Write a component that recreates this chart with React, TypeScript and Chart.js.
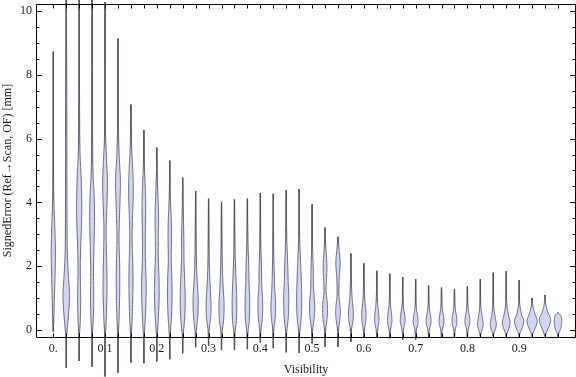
import React, { useEffect, useRef } from "react";
import { Chart, registerables } from "chart.js";

Chart.register(...registerables);

// Categories (Visibility)
const visibility = [
  0, 0.025, 0.05, 0.075, 0.1, 0.125, 0.15, 0.175, 0.2, 0.225,
  0.25, 0.275, 0.3, 0.325, 0.35, 0.375, 0.4, 0.425, 0.45, 0.475,
  0.5, 0.525, 0.55, 0.575, 0.6, 0.625, 0.65, 0.675, 0.7, 0.725,
  0.75, 0.775, 0.8, 0.825, 0.85, 0.875, 0.9, 0.925, 0.95, 0.975,
];

// Lowest / highest signed error per category [mm]
const errorMin = [
  -0.05, -1.19, -0.97, -1.15, -1.46, -1.34, -1.02, -1.04, -0.99, -0.92,
  -0.73, -0.54, -0.5, -0.63, -0.63, -0.6, -0.4, -0.57, -0.7, -0.72,
  -0.42, -0.53, -0.53, -0.37, -0.22, -0.22, -0.26, -0.3, -0.3, -0.22,
  -0.22, -0.22, -0.22, -0.2, -0.2, -0.2, -0.2, -0.2, -0.2, -0.2,
];
const errorMax = [
  8.73, 10.6, 10.6, 10.6, 10.28, 9.14, 7.07, 6.27, 5.72, 5.31,
  4.78, 4.36, 4.12, 4.0, 4.09, 4.12, 4.29, 4.27, 4.38, 4.42,
  3.94, 3.21, 2.92, 2.4, 2.09, 1.86, 1.76, 1.66, 1.6, 1.39,
  1.33, 1.29, 1.37, 1.6, 1.8, 1.84, 1.56, 1.0, 1.1, 0.55,
];

// Relative density profile per category: [error, density]
const densityProfiles: number[][][] = [
  [[-0.05, 0], [0.3, 0.1], [1, 0.22], [2, 0.38], [2.6, 0.4], [3.3, 0.28], [4.2, 0.1], [5.5, 0.04], [8.73, 0]],
  [[-1.19, 0], [-0.3, 0.04], [0.2, 0.3], [0.8, 0.58], [1.2, 0.62], [1.7, 0.42], [2.5, 0.2], [4, 0.15], [6, 0.13], [8, 0.1], [9.5, 0.05], [10.6, 0.01]],
  [[-0.97, 0], [-0.2, 0.06], [0.3, 0.22], [1, 0.3], [1.8, 0.22], [2.5, 0.28], [3.3, 0.45], [4, 0.5], [4.8, 0.38], [5.6, 0.16], [7, 0.08], [9, 0.04], [10.6, 0.01]],
  [[-1.15, 0], [-0.2, 0.06], [0.3, 0.22], [1, 0.32], [1.8, 0.27], [2.6, 0.36], [3.4, 0.47], [4.2, 0.4], [5, 0.17], [6.5, 0.08], [9, 0.04], [10.6, 0.01]],
  [[-1.46, 0], [-0.3, 0.05], [0.3, 0.22], [1.2, 0.38], [1.8, 0.36], [2.6, 0.25], [3.3, 0.23], [4.1, 0.4], [4.7, 0.45], [5.4, 0.28], [6.2, 0.1], [8, 0.04], [10.28, 0]],
  [[-1.34, 0], [-0.3, 0.05], [0.3, 0.2], [1.2, 0.33], [2, 0.33], [2.8, 0.2], [3.5, 0.28], [4.4, 0.45], [4.8, 0.45], [5.5, 0.22], [6.5, 0.08], [8, 0.04], [9.14, 0]],
  [[-1.02, 0], [-0.3, 0.05], [0.3, 0.23], [1.3, 0.38], [2, 0.36], [2.8, 0.23], [3.5, 0.3], [4.3, 0.45], [5, 0.36], [5.8, 0.13], [7.07, 0]],
  [[-1.04, 0], [-0.3, 0.05], [0.3, 0.26], [1, 0.42], [1.6, 0.42], [2.3, 0.28], [3, 0.28], [3.8, 0.36], [4.4, 0.28], [5.2, 0.1], [6.27, 0]],
  [[-0.99, 0], [-0.3, 0.05], [0.3, 0.28], [1, 0.45], [1.6, 0.42], [2.3, 0.28], [3, 0.3], [3.6, 0.34], [4.3, 0.2], [5, 0.07], [5.72, 0]],
  [[-0.92, 0], [-0.3, 0.05], [0.3, 0.28], [1, 0.45], [1.6, 0.4], [2.2, 0.28], [2.9, 0.33], [3.5, 0.28], [4.2, 0.1], [5.31, 0]],
  [[-0.73, 0], [-0.2, 0.07], [0.3, 0.35], [0.9, 0.48], [1.5, 0.4], [2.1, 0.26], [2.8, 0.23], [3.4, 0.16], [4, 0.07], [4.78, 0]],
  [[-0.54, 0], [-0.1, 0.09], [0.4, 0.4], [0.9, 0.5], [1.4, 0.36], [2, 0.18], [2.7, 0.1], [3.5, 0.05], [4.36, 0]],
  [[-0.5, 0], [0, 0.11], [0.4, 0.42], [0.8, 0.48], [1.3, 0.33], [1.9, 0.16], [2.6, 0.08], [3.4, 0.04], [4.12, 0]],
  [[-0.63, 0], [-0.1, 0.09], [0.3, 0.4], [0.8, 0.5], [1.3, 0.33], [1.9, 0.18], [2.6, 0.08], [3.3, 0.04], [4.0, 0]],
  [[-0.63, 0], [-0.1, 0.09], [0.3, 0.38], [0.9, 0.45], [1.5, 0.33], [2.1, 0.18], [2.8, 0.08], [4.09, 0]],
  [[-0.6, 0], [-0.1, 0.09], [0.3, 0.36], [0.9, 0.45], [1.4, 0.33], [2, 0.26], [2.6, 0.13], [3.3, 0.05], [4.12, 0]],
  [[-0.4, 0], [0, 0.11], [0.4, 0.4], [0.9, 0.45], [1.4, 0.28], [2, 0.23], [2.6, 0.1], [3.4, 0.04], [4.29, 0]],
  [[-0.57, 0], [0, 0.11], [0.4, 0.38], [0.8, 0.45], [1.3, 0.28], [1.9, 0.18], [2.6, 0.08], [4.27, 0]],
  [[-0.7, 0], [-0.1, 0.09], [0.4, 0.4], [1, 0.5], [1.5, 0.38], [2.1, 0.28], [2.8, 0.13], [3.5, 0.05], [4.38, 0]],
  [[-0.72, 0], [-0.1, 0.09], [0.4, 0.4], [1, 0.5], [1.6, 0.4], [2.2, 0.26], [2.9, 0.1], [3.6, 0.04], [4.42, 0]],
  [[-0.42, 0], [0, 0.11], [0.4, 0.42], [0.8, 0.5], [1.3, 0.28], [1.8, 0.23], [2.4, 0.13], [3, 0.05], [3.94, 0]],
  [[-0.53, 0], [0, 0.11], [0.4, 0.42], [0.8, 0.45], [1.2, 0.2], [1.6, 0.28], [2, 0.36], [2.4, 0.23], [2.8, 0.07], [3.21, 0]],
  [[-0.53, 0], [0, 0.11], [0.4, 0.4], [0.7, 0.42], [1.1, 0.18], [1.6, 0.23], [2.1, 0.42], [2.5, 0.23], [2.92, 0]],
  [[-0.37, 0], [0, 0.11], [0.3, 0.4], [0.6, 0.45], [1, 0.23], [1.5, 0.1], [2, 0.04], [2.4, 0]],
  [[-0.22, 0], [0, 0.11], [0.3, 0.38], [0.55, 0.42], [0.9, 0.2], [1.4, 0.08], [2.09, 0]],
  [[-0.22, 0], [0, 0.14], [0.25, 0.4], [0.5, 0.38], [0.8, 0.18], [1.2, 0.07], [1.86, 0]],
  [[-0.26, 0], [0, 0.14], [0.25, 0.42], [0.5, 0.35], [0.8, 0.13], [1.2, 0.05], [1.76, 0]],
  [[-0.3, 0], [0, 0.14], [0.25, 0.45], [0.45, 0.4], [0.75, 0.13], [1.1, 0.05], [1.66, 0]],
  [[-0.3, 0], [0, 0.14], [0.2, 0.45], [0.4, 0.42], [0.7, 0.13], [1, 0.05], [1.6, 0]],
  [[-0.22, 0], [0, 0.14], [0.2, 0.45], [0.4, 0.42], [0.7, 0.13], [1, 0.05], [1.39, 0]],
  [[-0.22, 0], [0, 0.14], [0.2, 0.45], [0.4, 0.42], [0.7, 0.13], [1, 0.05], [1.33, 0]],
  [[-0.22, 0], [0, 0.14], [0.2, 0.45], [0.4, 0.42], [0.7, 0.13], [1, 0.05], [1.29, 0]],
  [[-0.22, 0], [0, 0.14], [0.2, 0.45], [0.4, 0.42], [0.7, 0.13], [1, 0.05], [1.37, 0]],
  [[-0.2, 0], [-0.1, 0.12], [0.15, 0.55], [0.4, 0.38], [0.7, 0.12], [1.1, 0.04], [1.6, 0]],
  [[-0.2, 0], [-0.1, 0.14], [0.15, 0.58], [0.4, 0.38], [0.7, 0.12], [1.1, 0.04], [1.8, 0]],
  [[-0.2, 0], [-0.1, 0.17], [0.2, 0.75], [0.45, 0.46], [0.75, 0.15], [1.2, 0.04], [1.84, 0]],
  [[-0.2, 0], [-0.1, 0.17], [0.25, 0.9], [0.5, 0.45], [0.8, 0.12], [1.1, 0.04], [1.56, 0]],
  [[-0.2, 0], [-0.1, 0.17], [0.25, 0.98], [0.5, 0.56], [0.75, 0.16], [1.0, 0]],
  [[-0.2, 0], [-0.1, 0.22], [0.3, 1.1], [0.55, 0.56], [0.8, 0.18], [1.1, 0]],
  [[-0.2, 0], [-0.1, 0.17], [0.1, 0.62], [0.3, 0.72], [0.45, 0.56], [0.55, 0]],
];

const yTickValues = [0, 2, 4, 6, 8, 10];
const yMinorStep = 0.5;
const xTickValues = [0, 0.1, 0.2, 0.3, 0.4, 0.5, 0.6, 0.7, 0.8, 0.9];
const xTickLabels = ["0.", "0.1", "0.2", "0.3", "0.4", "0.5", "0.6", "0.7", "0.8", "0.9"];

const FONT = "'Liberation Serif', 'Times New Roman', serif";
const FILL = "#d0d5f6";
const OUTLINE = "#4c4e5c";
const WICK = "rgba(45,45,50,0.82)";

function catmull(p0: number, p1: number, p2: number, p3: number, t: number) {
  const t2 = t * t;
  const t3 = t2 * t;
  return 0.5 * (2 * p1 + (-p0 + p2) * t + (2 * p0 - 5 * p1 + 4 * p2 - p3) * t2 + (-p0 + 3 * p1 - 3 * p2 + p3) * t3);
}

const violinPlugin = {
  id: "violins",
  afterDatasetsDraw(chart: any) {
    const { ctx, chartArea, scales } = chart;
    const xs = scales.x;
    const ys = scales.y;
    const spacing = Math.abs(xs.getPixelForValue(visibility[1]) - xs.getPixelForValue(visibility[0]));
    const halfScale = spacing * 0.4;
    ctx.save();

    visibility.forEach((v, i) => {
      const cx = xs.getPixelForValue(v);
      ctx.beginPath();
      ctx.moveTo(cx, ys.getPixelForValue(errorMin[i]));
      ctx.lineTo(cx, ys.getPixelForValue(errorMax[i]));
      ctx.strokeStyle = WICK;
      ctx.lineWidth = 1.4;
      ctx.stroke();

      const knots = densityProfiles[i].map(([e, d]) => [ys.getPixelForValue(e), d * halfScale]);
      const pts: number[][] = [];
      const n = knots.length;
      for (let k = 0; k < n - 1; k++) {
        const p0 = knots[Math.max(0, k - 1)];
        const p1 = knots[k];
        const p2 = knots[k + 1];
        const p3 = knots[Math.min(n - 1, k + 2)];
        for (let s = 0; s < 10; s++) {
          const t = s / 10;
          pts.push([catmull(p0[0], p1[0], p2[0], p3[0], t), Math.max(0, catmull(p0[1], p1[1], p2[1], p3[1], t))]);
        }
      }
      pts.push(knots[n - 1]);
      ctx.beginPath();
      pts.forEach(([py, w], k) => {
        if (k === 0) ctx.moveTo(cx + w, py);
        else ctx.lineTo(cx + w, py);
      });
      for (let k = pts.length - 1; k >= 0; k--) {
        ctx.lineTo(cx - pts[k][1], pts[k][0]);
      }
      ctx.closePath();
      ctx.fillStyle = FILL;
      ctx.fill();
      ctx.strokeStyle = OUTLINE;
      ctx.lineWidth = 0.8;
      ctx.lineJoin = "round";
      ctx.stroke();
    });

    // Frame
    const L = chartArea.left + 0.5;
    const R = chartArea.right - 0.5;
    const T = chartArea.top + 0.5;
    const B = chartArea.bottom + 0.5;
    ctx.strokeStyle = "#000";
    ctx.lineWidth = 1;
    ctx.beginPath();
    ctx.moveTo(L, T);
    ctx.lineTo(R, T);
    ctx.lineTo(R, B);
    ctx.lineTo(L, B);
    ctx.closePath();
    ctx.stroke();

    ctx.beginPath();
    visibility.forEach((v) => {
      const px = Math.round(xs.getPixelForValue(v)) + 0.5;
      ctx.moveTo(px, B);
      ctx.lineTo(px, B - 4);
      ctx.moveTo(px, T);
      ctx.lineTo(px, T + 4);
    });
    for (let val = 0; val <= 10 + 1e-9; val += yMinorStep) {
      const major = yTickValues.some((t) => Math.abs(t - val) < 1e-9);
      const len = major ? 5.5 : 3;
      const py = Math.round(ys.getPixelForValue(val)) + 0.5;
      ctx.moveTo(L, py);
      ctx.lineTo(L + len, py);
      ctx.moveTo(R, py);
      ctx.lineTo(R - len, py);
    }
    ctx.stroke();
    ctx.restore();
  },
};

export default function App() {
  const canvasRef = useRef<HTMLCanvasElement | null>(null);

  useEffect(() => {
    const canvas = canvasRef.current;
    if (!canvas) return;
    const chart = new Chart(canvas, {
      type: "scatter",
      data: {
        datasets: [
          {
            data: visibility.map((v, i) => ({ x: v, y: errorMax[i] })),
            pointRadius: 0,
            showLine: false,
          },
        ],
      },
      options: {
        responsive: false,
        devicePixelRatio: 1,
        animation: false,
        events: [],
        layout: { autoPadding: false, padding: { top: 4, right: 0, left: 0, bottom: 0 } },
        plugins: { legend: { display: false }, tooltip: { enabled: false } },
        scales: {
          x: {
            type: "linear",
            min: -0.0334,
            max: 1.0098,
            afterBuildTicks: (s: any) => {
              s.ticks = xTickValues.map((value) => ({ value }));
            },
            afterFit: (s: any) => {
              s.height = 40;
              s.paddingLeft = 0;
              s.paddingRight = 0;
            },
            grid: { display: false, drawTicks: false },
            border: { display: false },
            ticks: {
              autoSkip: false,
              maxRotation: 0,
              padding: 5,
              color: "#1a1a1a",
              font: { family: FONT, size: 12 },
              callback: (value: any) => {
                const idx = xTickValues.findIndex((t) => Math.abs(t - value) < 1e-9);
                return idx >= 0 ? xTickLabels[idx] : "";
              },
            },
            title: {
              display: true,
              text: "Visibility",
              color: "#1a1a1a",
              font: { family: FONT, size: 12 },
              padding: { top: 0, bottom: 0 },
            },
          },
          y: {
            type: "linear",
            min: -0.219,
            max: 10.219,
            afterBuildTicks: (s: any) => {
              s.ticks = yTickValues.map((value) => ({ value }));
            },
            afterFit: (s: any) => {
              s.width = 36;
              s.paddingTop = 0;
              s.paddingBottom = 0;
            },
            grid: { display: false, drawTicks: false },
            border: { display: false },
            ticks: {
              padding: 4,
              color: "#1a1a1a",
              font: { family: FONT, size: 12 },
              callback: (value: any) => String(value),
            },
            title: {
              display: true,
              text: "SignedError (Ref\u2192Scan, OF) [mm]",
              color: "#1a1a1a",
              font: { family: FONT, size: 12 },
              padding: { top: 1, bottom: 0 },
            },
          },
        },
      },
      plugins: [violinPlugin],
    });
    return () => chart.destroy();
  }, []);

  return (
    <div style={{ position: "absolute", left: 0, top: 0, width: 576, height: 377, background: "#fff" }}>
      <canvas ref={canvasRef} width={576} height={377} style={{ display: "block" }} />
    </div>
  );
}
